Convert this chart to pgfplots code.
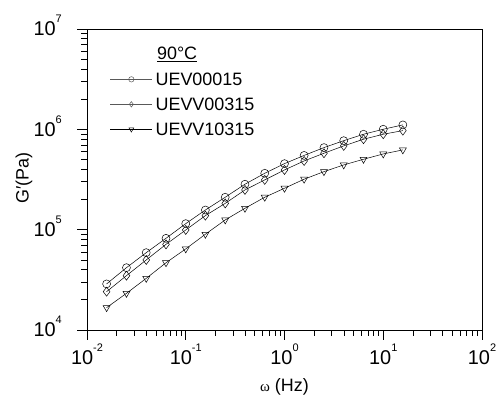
\documentclass[border=0pt]{standalone}
\usepackage{fontspec}
\setmainfont{Liberation Sans}
\newfontfamily\grk{Liberation Serif}
\usepackage{pgfplots}
\pgfplotsset{compat=1.18}
\newcommand{\tp}[1]{10\raisebox{13bp}{\fontsize{11}{11}\selectfont #1}}
\pgfplotstableread{
x c d t
0.0158 28800 24100 16700
0.0251 41800 34800 23200
0.0398 59000 49900 32700
0.0631 82000 71400 46800
0.1 114800 99300 64300
0.158 157000 138000 90000
0.251 210400 182800 125000
0.398 283800 248900 163400
0.631 364800 313300 210400
1 455000 393800 258700
1.58 549500 484000 318400
2.51 657700 577800 378700
3.98 771000 683900 441900
6.31 893000 796600 503000
10 1002000 893500 568500
15.8 1107000 971000 623700
}\data
\begin{document}
\begin{tikzpicture}
\begin{axis}[name=ax, at={(0,0)}, anchor=south west,
 scale only axis, width=395bp, height=301bp,
 xmode=log, ymode=log, xmin=1e-2, xmax=1e2, ymin=1e4, ymax=1e7,
 tick pos=left, tick align=outside,
 major tick length=10bp, minor tick length=6bp,
 axis line style={line width=0.9bp},
 every tick/.style={black, line width=0.7bp},
 xtick={0.01,0.1,1,10,100}, xticklabels={\tp{-2},\tp{-1},\tp{0},\tp{1},\tp{2}},
 ytick={1e4,1e5,1e6,1e7}, yticklabels={\tp{4},\tp{5},\tp{6},\tp{7}},
 ticklabel style={font=\fontsize{20}{20}\selectfont, inner sep=0pt},
 xticklabel style={anchor=base, yshift=-25bp},
 yticklabel style={anchor=base east, yshift=-7bp, xshift=-15bp},
 xlabel={{\grk\fontsize{15}{15}\selectfont ω} (Hz)},
 xlabel style={at={(axis description cs:0.5,-0.203)}, anchor=base, font=\fontsize{18}{18}\selectfont, inner sep=0pt},
 ylabel={G′(Pa)},
 ylabel style={at={(axis description cs:-0.1595,0.505)}, anchor=center, font=\fontsize{18}{18}\selectfont, inner sep=0pt},
 legend style={draw=none, fill=none, at={(axis description cs:0.058,0.855)}, anchor=north west,
   inner sep=0pt, row sep=12bp, font=\fontsize{18}{18}\selectfont,
   nodes={inner sep=0pt, text height=13bp, text depth=0pt}},
 legend cell align=left,
 legend image code/.code={\draw[#1, mark=none] (0bp,0bp) -- (42bp,0bp);
   \draw[#1, only marks, mark size=2.7bp] plot coordinates {(21bp,0bp)};
   \path (45bp,0bp);},
]
\addplot[black, line width=0.5bp, mark=o, mark size=4bp, mark options={line width=0.5bp}, legend image post style={gray!70!black}] table[x=x, y=c] {\data};
\addlegendentry{UEV00015}
\addplot[black, line width=0.5bp, mark=diamond, mark size=4.5bp, mark options={line width=0.5bp}, legend image post style={gray!70!black}] table[x=x, y=d] {\data};
\addlegendentry{UEVV00315}
\addplot[black, line width=0.5bp, mark=triangle, mark size=4bp, mark options={rotate=180, line width=0.5bp}] table[x=x, y=t] {\data};
\addlegendentry{UEVV10315}
\node[anchor=base west, font=\fontsize{18}{18}\selectfont, inner sep=0pt] at (axis description cs:0.177,0.897) {\underline{90°C}};
\end{axis}
\pgfresetboundingbox
\path[use as bounding box] ([shift={(-87bp,-68bp)}]ax.south west) rectangle ([shift={(17bp,29bp)}]ax.north east);
\end{tikzpicture}
\end{document}
